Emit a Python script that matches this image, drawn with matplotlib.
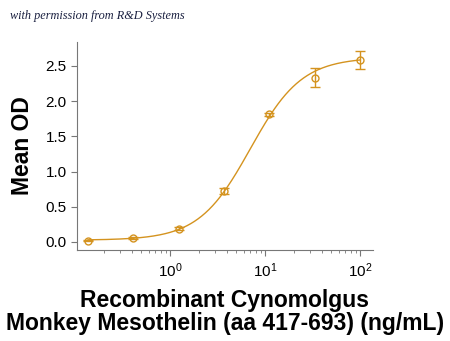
import numpy as np
import matplotlib
matplotlib.use('Agg')
import matplotlib.pyplot as plt

plt.rcParams['font.family'] = ['Liberation Sans', 'DejaVu Sans']
plt.rcParams['mathtext.fontset'] = 'custom'
plt.rcParams['mathtext.rm'] = 'Liberation Sans'
plt.rcParams['mathtext.default'] = 'regular'

# concentration (ng/mL), mean OD, error
conc = [0.137, 0.412, 1.23, 3.70, 11.1, 33.3, 100.0]
od = [0.02, 0.057, 0.19, 0.72, 1.81, 2.33, 2.58]
err = [0.01, 0.01, 0.015, 0.04, 0.025, 0.135, 0.128]

# 4PL fit parameters
bottom, top, ec50, hill = 0.025, 2.62, 7.0, 1.6

color = '#D4931F'

fig = plt.figure(figsize=(4.5, 3.41), dpi=100)
ax = fig.add_axes([0.171, 0.267, 0.658, 0.61])

xs = np.logspace(np.log10(conc[0]), np.log10(conc[-1]), 300)
ys = bottom + (top - bottom) / (1 + (ec50 / xs) ** hill)
ax.plot(xs, ys, '-', color=color, lw=1.0)
ax.errorbar(conc, od, yerr=err, fmt='o', mfc='none', mec=color, ecolor=color,
            ms=5, mew=1.0, capsize=3.5, elinewidth=1.0, capthick=1.0)

ax.set_xscale('log')
ax.set_xlim(0.105, 137)
ax.set_ylim(-0.114, 2.84)
ax.set_yticks([0.0, 0.5, 1.0, 1.5, 2.0, 2.5])
ax.set_yticklabels(['0.0', '0.5', '1.0', '1.5', '2.0', '2.5'])

for s in ['top', 'right']:
    ax.spines[s].set_visible(False)
for s in ['left', 'bottom']:
    ax.spines[s].set_color('#777777')
    ax.spines[s].set_linewidth(0.8)
ax.tick_params(axis='both', which='both', colors='#777777', labelcolor='black',
               labelsize=11, direction='out')
ax.tick_params(axis='both', which='major', length=4)
ax.tick_params(axis='x', which='minor', length=2.5)
ax.tick_params(axis='x', which='major', pad=4.5)

ax.set_ylabel('Mean OD', fontsize=16.5, fontweight='bold', labelpad=8)
ax.set_xlabel('Recombinant Cynomolgus\nMonkey Mesothelin (aa 417-693) (ng/mL)',
              fontsize=16.5, fontweight='bold', linespacing=1.0, labelpad=6)

fig.text(0.022, 0.953, 'with permission from R&D Systems', fontsize=8.8,
         family='Liberation Serif', style='italic', color='#1a2040', va='center')

fig.savefig('out.png', dpi=100)
